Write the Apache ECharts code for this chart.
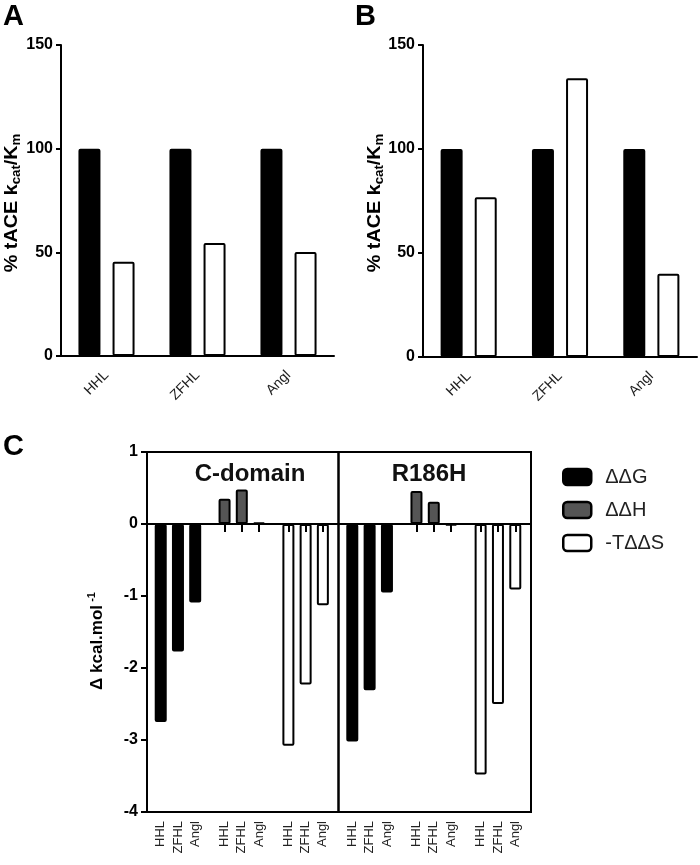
<!DOCTYPE html>
<html><head><meta charset="utf-8">
<script src="https://cdn.jsdelivr.net/npm/echarts@6/dist/echarts.min.js"></script>
<style>html,body{margin:0;padding:0;background:#fff}#c{width:700px;height:865px}</style>
</head><body><div id="c"></div>
<script>
// ---------- data ----------
const substrates = ['HHL', 'ZFHL', 'Angl'];
const panelA_tACE = [100, 100, 100];
const panelA_mutant = [45.5, 54.5, 50.2];
const panelB_tACE = [100, 100, 100];
const panelB_mutant = [76.8, 134, 40];
const yTicksAB = [0, 50, 100, 150];

const cPanels = ['C-domain', 'R186H'];
const cSeries = ['ΔΔG', 'ΔΔH', '-TΔΔS'];
const cDomain_ddG = [-2.75, -1.77, -1.09];
const cDomain_ddH = [0.35, 0.48, 0.02];
const cDomain_TdS = [-3.08, -2.23, -1.13];
const r186h_ddG = [-3.02, -2.31, -0.95];
const r186h_ddH = [0.46, 0.31, -0.02];
const r186h_TdS = [-3.48, -2.50, -0.91];
const yTicksC = [-4, -3, -2, -1, 0, 1];

// ---------- helpers ----------
const FF = '"Liberation Sans", Arial, sans-serif';
const cData = [[cDomain_ddG, cDomain_ddH, cDomain_TdS], [r186h_ddG, r186h_ddH, r186h_TdS]];
const cColors = ['#000', '#555', '#fff'];
// group g (series), sub s (substrate) position on the 0..3 value axis of a panel
function xPos(g, s) { return g + 0.5 + (s - 1) * 0.27 - 0.015; }
const allPos = [];
const allNames = [];
for (let g = 0; g < 3; g++) for (let s = 0; s < 3; s++) { allPos.push(xPos(g, s)); allNames.push(substrates[s]); }
function nameAt(v) {
  for (let i = 0; i < allPos.length; i++) if (Math.abs(allPos[i] - v) < 1e-6) return allNames[i];
  return '';
}

const grids = [
  { left: 61, top: 45, width: 273, height: 311 },
  { left: 423, top: 45, width: 274, height: 312 },
  { left: 147, top: 452, width: 191.5, height: 360, show: true, borderColor: '#000', borderWidth: 2, backgroundColor: 'transparent' },
  { left: 338.5, top: 452, width: 192.5, height: 360, show: true, borderColor: '#000', borderWidth: 2, backgroundColor: 'transparent' }
];

function catAxis(gi) {
  return {
    type: 'category', gridIndex: gi, data: substrates,
    axisLine: { lineStyle: { color: '#000', width: 2 } },
    axisTick: { alignWithLabel: true, length: 5, lineStyle: { color: '#000', width: 2 } },
    axisLabel: { rotate: 45, margin: 17, fontSize: 14, color: '#222', fontFamily: FF }
  };
}
function zeroAxis(gi) {
  return {
    type: 'value', gridIndex: gi, min: 0, max: 3, position: 'bottom', z: 5,
    axisLine: { onZero: true, lineStyle: { color: '#000', width: 2 } },
    axisTick: { show: true, customValues: allPos, length: 8, inside: false, lineStyle: { color: '#000', width: 2 } },
    axisLabel: { show: false }, splitLine: { show: false }
  };
}
function labelAxis(gi) {
  return {
    type: 'value', gridIndex: gi, min: 0, max: 3, position: 'bottom',
    axisLine: { show: false, onZero: false }, axisTick: { show: false }, splitLine: { show: false },
    axisLabel: { customValues: allPos, formatter: nameAt, rotate: 90, margin: 9, fontSize: 13, color: '#222', fontFamily: FF }
  };
}
function abYAxis(gi) {
  return {
    type: 'value', gridIndex: gi, min: 0, max: 150, interval: 50,
    axisLine: { show: true, onZero: false, lineStyle: { color: '#000', width: 2 } },
    axisTick: { show: true, length: 5, lineStyle: { color: '#000', width: 2 } },
    axisLabel: { fontSize: 16, fontWeight: 'bold', color: '#000', margin: 8, fontFamily: FF,
      customValues: yTicksAB },
    splitLine: { show: false }
  };
}

const series = [];
const abSets = [[panelA_tACE, panelA_mutant], [panelB_tACE, panelB_mutant]];
abSets.forEach((set, gi) => {
  ['tACE', 'mutant'].forEach((nm, k) => {
    series.push({
      type: 'bar', name: nm, xAxisIndex: gi, yAxisIndex: gi, data: set[k],
      barWidth: 22, barGap: '55%',
      itemStyle: { color: k === 0 ? '#000' : '#fff', borderColor: '#000', borderWidth: 2, borderRadius: 1 }
    });
  });
});
for (let p = 0; p < 2; p++) {
  for (let g = 0; g < 3; g++) {
    series.push({
      type: 'bar', name: cSeries[g], xAxisIndex: 2 + p, yAxisIndex: 2 + p,
      data: cData[p][g].map((v, s) => [xPos(g, s), v]),
      barWidth: 12, barGap: '-100%',
      itemStyle: { color: cColors[g], borderColor: '#000', borderWidth: 2, borderRadius: 1 }
    });
  }
}

const option = {
  animation: false,
  backgroundColor: '#fff',
  grid: grids,
  xAxis: [catAxis(0), catAxis(1), zeroAxis(2), zeroAxis(3), labelAxis(2), labelAxis(3)],
  yAxis: [
    abYAxis(0), abYAxis(1),
    {
      type: 'value', gridIndex: 2, min: -4, max: 1, interval: 1,
      axisLine: { show: true, onZero: false, lineStyle: { color: '#000', width: 2 } },
      axisTick: { show: true, length: 6, lineStyle: { color: '#000', width: 2 } },
      axisLabel: { fontSize: 16, fontWeight: 'bold', color: '#000', margin: 9, fontFamily: FF, customValues: yTicksC },
      splitLine: { show: false }
    },
    { type: 'value', gridIndex: 3, min: -4, max: 1, interval: 1, show: false, axisLine: { onZero: false }, splitLine: { show: false } }
  ],
  legend: {
    data: cSeries, orient: 'vertical', left: 557, top: 462,
    itemWidth: 28, itemHeight: 16, itemGap: 13, icon: 'roundRect',
    itemStyle: { borderColor: '#000', borderWidth: 2.5 },
    textStyle: { fontSize: 20, color: '#222', fontFamily: FF, padding: [0, 0, 0, 9] },
    selectedMode: false
  },
  graphic: [
    { type: 'text', left: 3, top: 2, style: { text: 'A', fontSize: 29, fontWeight: 'bold', fontFamily: FF, fill: '#000' } },
    { type: 'text', left: 355, top: 2, style: { text: 'B', fontSize: 29, fontWeight: 'bold', fontFamily: FF, fill: '#000' } },
    { type: 'text', left: 3, top: 432, style: { text: 'C', fontSize: 29, fontWeight: 'bold', fontFamily: FF, fill: '#000' } },
    ...[[12, 203], [375, 203]].map(([x, y]) => ({
      type: 'text', x: x, y: y, rotation: Math.PI / 2, scaleX: 1.1,
      style: {
        text: '% tACE k{s|cat}/K{s|m}', fontSize: 18, fontWeight: 'bold', fontFamily: FF, fill: '#000',
        align: 'center', verticalAlign: 'middle', lineHeight: 22,
        rich: { s: { fontSize: 12, fontWeight: 'bold', fontFamily: FF, verticalAlign: 'bottom', lineHeight: 12 } }
      }
    })),
    {
      type: 'text', x: 97, y: 641, rotation: Math.PI / 2,
      style: {
        text: 'Δ kcal.mol{u| -1}', fontSize: 17, fontWeight: 'bold', fontFamily: FF, fill: '#000',
        align: 'center', verticalAlign: 'middle', lineHeight: 22,
        rich: { u: { fontSize: 11, fontWeight: 'bold', fontFamily: FF, verticalAlign: 'top', lineHeight: 11 } }
      }
    },
    { type: 'text', x: 250, y: 474, style: { text: cPanels[0], fontSize: 24, fontWeight: 'bold', fontFamily: FF, fill: '#111', align: 'center', verticalAlign: 'middle' } },
    { type: 'text', x: 429, y: 474, style: { text: cPanels[1], fontSize: 24, fontWeight: 'bold', fontFamily: FF, fill: '#111', align: 'center', verticalAlign: 'middle' } }
  ],
  series: series
};
const chart = echarts.init(document.getElementById('c'), null, { renderer: 'canvas' });
chart.setOption(option);
</script></body></html>
